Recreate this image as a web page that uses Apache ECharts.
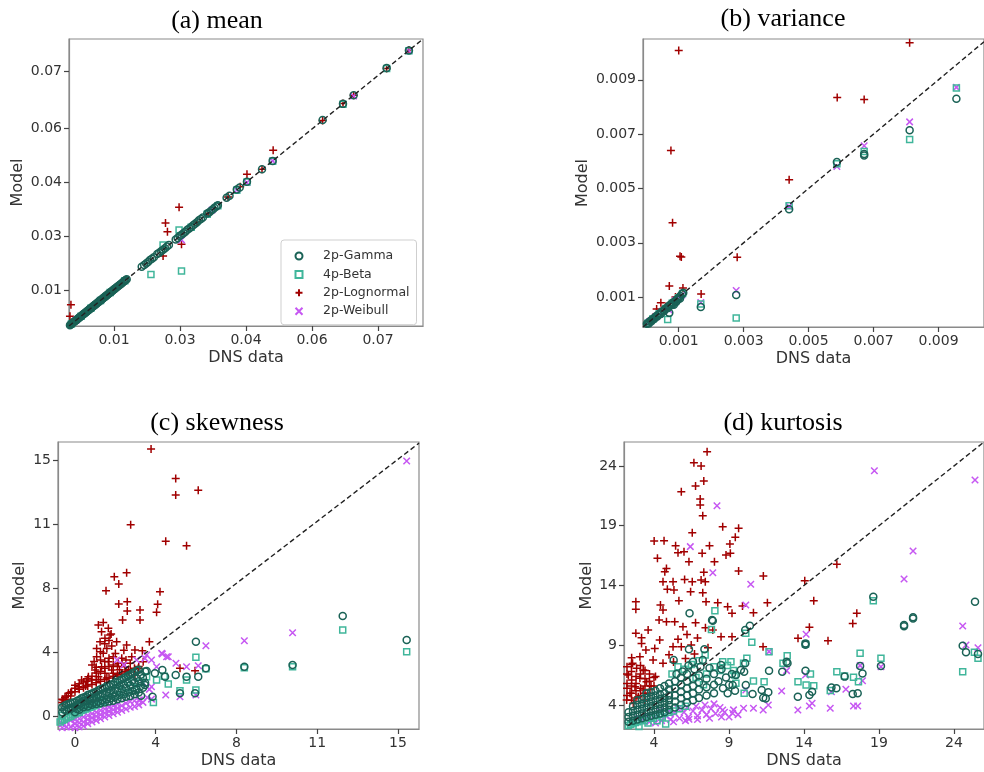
<!DOCTYPE html>
<html>
<head>
<meta charset="utf-8">
<script src="https://cdn.jsdelivr.net/npm/echarts@6/dist/echarts.min.js"></script>
<style>
  html, body { margin: 0; background: #fff; }
  #chart { width: 984px; height: 772px; }
</style>
</head>
<body>
<div id="chart"></div>
<script>
/* DNS data vs model moments — four scatter panels */

// ---------- data: [DNS value, model value] ----------
// (a) mean
const meanGamma = [[0.0037,0.0037],[0.00385,0.0039],[0.0040,0.0040],[0.00415,0.0042],[0.0043,0.0043],[0.00445,0.0045],[0.0046,0.0046],[0.00475,0.0048],[0.0049,0.0049],[0.00505,0.0051],[0.0052,0.0052],[0.00535,0.0054],[0.0055,0.0055],[0.00565,0.0057],[0.0058,0.0058],[0.00595,0.0060],[0.0061,0.0061],[0.00625,0.0063],[0.0064,0.0064],[0.00655,0.0066],[0.0067,0.0067],[0.00685,0.0069],[0.0070,0.0070],[0.00715,0.0072],[0.0073,0.0073],[0.00745,0.0075],[0.0076,0.0076],[0.00775,0.0078],[0.0079,0.0079],[0.00805,0.0081],[0.0082,0.0082],[0.00835,0.0084],[0.0085,0.0085],[0.00865,0.0087],[0.0088,0.0088],[0.00895,0.0090],[0.0091,0.0091],[0.00925,0.0093],[0.0094,0.0094],[0.00955,0.0096],[0.0097,0.0097],[0.00985,0.0099],[0.0100,0.0100],[0.01015,0.0102],[0.0103,0.0103],[0.01045,0.0105],[0.0106,0.0106],[0.01075,0.0108],[0.0109,0.0109],[0.01105,0.0111],[0.0112,0.0112],[0.01135,0.0114],[0.0115,0.0115],[0.01165,0.0117],[0.0118,0.0118],[0.01195,0.0120],[0.0121,0.0121],[0.01225,0.0123],[0.0124,0.0124],[0.01255,0.0126],[0.0127,0.0127],[0.01285,0.0129],[0.0130,0.0130],[0.0132,0.0132],[0.0134,0.0134],[0.0136,0.0136],[0.0138,0.0138],[0.0140,0.0140],[0.0142,0.0142],[0.0144,0.0144],[0.0146,0.0146],[0.0148,0.0148],[0.0150,0.0150],[0.0152,0.0152],[0.0154,0.0154],
  [0.0185,0.0186],[0.0190,0.0190],[0.0194,0.0194],[0.0198,0.0198],[0.0202,0.0203],[0.0206,0.0206],[0.0210,0.0210],[0.0217,0.0218],[0.0221,0.0221],[0.0225,0.0225],[0.0229,0.0229],[0.0233,0.0233],[0.0237,0.0237],[0.0241,0.0241],[0.0255,0.0255],[0.0259,0.0259],[0.0263,0.0264],[0.0267,0.0267],[0.0271,0.0271],[0.0275,0.0275],[0.0279,0.0280],[0.0283,0.0283],[0.0287,0.0287],[0.0291,0.0291],[0.0295,0.0295],[0.0299,0.0299],[0.0303,0.0304],[0.0307,0.0307],[0.0311,0.0311],[0.0320,0.0321],[0.0324,0.0324],[0.0328,0.0328],[0.0332,0.0332],[0.0335,0.0336],[0.0339,0.0339],[0.0342,0.0342],[0.0360,0.0361],[0.0366,0.0366],[0.0381,0.0382],[0.0387,0.0387],[0.0402,0.0402],[0.0433,0.0434],[0.0455,0.0455],[0.0558,0.0559],[0.0600,0.0600],[0.0622,0.0622],[0.0690,0.0691],[0.0736,0.0736]];
const meanBeta = [[0.0040,0.0040],[0.0060,0.0060],[0.0080,0.0080],[0.0100,0.0100],[0.0120,0.0120],[0.0150,0.0150],[0.0204,0.0166],[0.0229,0.0241],[0.0262,0.0279],[0.0267,0.0175],[0.0287,0.0286],[0.0320,0.0319],[0.0342,0.0341],[0.0381,0.0380],[0.0402,0.0401],[0.0455,0.0454],[0.0600,0.0599],[0.0690,0.0690],[0.0736,0.0735]];
const meanLogn = [[0.0039,0.0089],[0.0037,0.0060],[0.0060,0.0060],[0.0090,0.0090],[0.0120,0.0120],[0.0229,0.0213],[0.0234,0.0297],[0.0238,0.0275],[0.0262,0.0337],[0.0267,0.0243],[0.0300,0.0300],[0.0322,0.0322],[0.0363,0.0363],[0.0388,0.0389],[0.0402,0.0421],[0.0433,0.0434],[0.0456,0.0482],[0.0558,0.0558],[0.0600,0.0601],[0.0622,0.0622],[0.0690,0.0690],[0.0736,0.0737]];
const meanWeib = [[0.0050,0.0050],[0.0100,0.0100],[0.0267,0.0254],[0.0330,0.0330],[0.0381,0.0381],[0.0402,0.0400],[0.0455,0.0455],[0.0622,0.0620],[0.0736,0.0735]];

// (b) variance
const varGamma = [[0.00002,0.00002],[0.00006,0.00005],[0.00010,0.00010],[0.00014,0.00013],[0.00018,0.00017],[0.00022,0.00021],[0.00027,0.00026],[0.00032,0.00031],[0.00037,0.00035],[0.00042,0.00040],[0.00047,0.00046],[0.00053,0.00051],[0.00058,0.00056],[0.00064,0.00062],[0.00070,0.00068],[0.00076,0.00074],[0.00082,0.00080],[0.00088,0.00085],[0.00094,0.00092],[0.00100,0.00098],[0.00105,0.00104],[0.00110,0.00111],[0.00114,0.00116],[0.00085,0.00072],[0.00092,0.00082],[0.00104,0.00095],[0.00008,0.00003],[0.00016,0.00011],[0.00025,0.00020],[0.00034,0.00029],[0.00045,0.00038],[0.00055,0.00049],[0.00067,0.00060],[0.00079,0.00071],
  [0.00071,0.00042],[0.00075,0.00070],[0.00097,0.00090],[0.00168,0.00064],[0.00277,0.00108],[0.00440,0.00423],[0.00587,0.00597],[0.00671,0.00627],[0.00671,0.00621],[0.00811,0.00714],[0.00955,0.00830]];
const varBeta = [[0.00005,0.00004],[0.00020,0.00019],[0.00040,0.00039],[0.00060,0.00058],[0.00080,0.00077],[0.00100,0.00098],[0.00112,0.00113],[0.00066,0.00018],[0.00168,0.00075],[0.00277,0.00023],[0.00440,0.00436],[0.00587,0.00591],[0.00671,0.00636],[0.00811,0.00680],[0.00955,0.00870]];
const varLogn = [[0.00010,0.00012],[0.00020,0.00025],[0.00032,0.00056],[0.00045,0.00079],[0.00060,0.00065],[0.00071,0.00141],[0.00076,0.00640],[0.00081,0.00374],[0.00090,0.00100],[0.00100,0.01008],[0.00104,0.00250],[0.00108,0.00248],[0.00113,0.00134],[0.00169,0.00111],[0.00280,0.00247],[0.00440,0.00532],[0.00588,0.00835],[0.00671,0.00827],[0.00811,0.01036]];
const varWeib = [[0.00010,0.00009],[0.00030,0.00028],[0.00050,0.00048],[0.00071,0.00052],[0.00090,0.00088],[0.00110,0.00108],[0.00168,0.00080],[0.00277,0.00124],[0.00440,0.00434],[0.00587,0.00581],[0.00671,0.00657],[0.00811,0.00745],[0.00955,0.00872]];

// (c) skewness
const skewGamma = [[-0.6,-0.3],[-0.6,0.0],[-0.4,-0.2],[-0.4,0.15],[-0.2,-0.1],[-0.2,0.25],[0.0,-0.3],[0.0,0.05],[0.0,0.3],[0.2,-0.15],[0.2,0.2],[0.2,0.45],[0.4,0.0],[0.4,0.35],[0.4,0.6],[0.6,0.05],[0.6,0.4],[0.6,0.75],[0.8,0.15],[0.8,0.5],[0.8,0.85],[1.0,0.2],[1.0,0.6],[1.0,0.95],[1.2,0.25],[1.2,0.65],[1.2,1.1],[1.4,0.3],[1.4,0.75],[1.4,1.2],[1.6,0.35],[1.6,0.85],[1.6,1.3],[1.8,0.4],[1.8,0.9],[1.8,1.4],[2.0,0.5],[2.0,1.0],[2.0,1.55],[2.2,0.55],[2.2,1.1],[2.2,1.7],[2.4,0.65],[2.4,1.2],[2.4,1.85],[2.6,0.7],[2.6,1.35],[2.6,2.0],[2.8,0.8],[2.8,1.5],[2.8,2.15],[3.0,0.9],[3.0,1.6],[3.0,2.3],[3.2,1.2],[3.2,1.8],
  [-0.5,-0.15],[-0.5,0.1],[-0.3,-0.05],[-0.3,0.2],[-0.1,0.0],[-0.1,0.3],[0.1,-0.1],[0.1,0.15],[0.1,0.4],[0.3,0.1],[0.3,0.3],[0.3,0.55],[0.5,0.15],[0.5,0.45],[0.5,0.65],[0.7,0.2],[0.7,0.55],[0.7,0.8],[0.9,0.3],[0.9,0.6],[0.9,0.9],[1.1,0.35],[1.1,0.75],[1.1,1.05],[1.3,0.45],[1.3,0.85],[1.3,1.15],[1.5,0.5],[1.5,0.95],[1.5,1.3],[1.7,0.55],[1.7,1.05],[1.7,1.4],[1.9,0.65],[1.9,1.15],[1.9,1.55],[2.1,0.75],[2.1,1.3],[2.1,1.65],[2.3,0.8],[2.3,1.4],[2.3,1.8],[2.5,0.9],[2.5,1.5],[2.5,1.95],[2.7,1.0],[2.7,1.65],[2.7,2.1],[2.9,1.1],[2.9,1.8],[2.9,2.25],[3.1,1.3],[3.1,2.0],[3.3,1.5],[3.3,2.2],
  [2.82,1.06],[3.11,0.71],[3.29,1.37],[3.37,2.22],[3.65,0.65],[3.76,2.08],[4.11,2.29],[4.24,1.88],[4.74,1.98],[4.94,0.86],[5.25,1.88],[5.65,0.86],[5.69,4.02],[5.8,1.88],[6.16,2.39],[7.97,2.49],[10.24,2.59],[12.6,5.59],[15.61,4.12]];
const skewBeta = [[-0.7,-0.9],[-0.5,-0.75],[-0.3,-0.6],[-0.1,-0.45],[0.1,-0.35],[0.3,-0.2],[0.5,-0.1],[0.7,0.0],[0.9,0.1],[1.1,0.2],[1.3,0.35],[-0.6,-0.5],[-0.2,-0.2],[0.2,0.05],[0.6,0.25],[1.0,0.45],[1.5,0.5],[1.9,0.7],[2.3,0.9],[2.7,1.2],[3.1,1.5],[2.0,1.4],[2.5,1.7],[-0.6,-0.8],[-0.4,-0.65],[-0.2,-0.55],[0.0,-0.4],[0.2,-0.3],[0.4,-0.15],[0.6,-0.05],[0.8,0.05],[1.0,0.15],
  [3.37,1.88],[3.69,0.3],[3.84,1.67],[4.2,1.9],[4.39,1.43],[4.94,1.02],[5.25,1.67],[5.69,1.06],[5.69,3.06],[6.16,2.37],[7.97,2.43],[10.24,2.49],[12.6,4.74],[15.61,3.41]];
const skewLogn = [[3.58,15.83],[4.74,14.03],[4.74,13.01],[5.8,13.31],[2.62,11.19],[4.27,10.17],[5.25,9.9],[1.85,8.0],[2.43,8.25],[1.46,7.15],[2.06,7.56],[2.06,6.33],[2.46,6.47],[2.46,5.9],[2.24,5.35],[3.06,5.96],[3.06,5.35],[4.0,7.08],[3.89,6.31],[3.84,5.82],[3.5,4.02],[4.94,2.39],[5.65,2.24],
  [1.33,5.19],[1.1,5.04],[1.57,4.84],[1.25,4.63],[1.65,4.43],[1.41,4.23],[1.18,4.02],[1.96,4.02],[1.02,3.61],[1.73,3.76],[2.43,3.82],[2.82,3.51],[3.17,3.47],[2.67,3.1],[2.2,3.0],[1.33,3.31],[1.02,3.1],[1.57,2.79],[2.04,2.7],[0.94,2.29],[0.63,1.88],[0.31,1.67],[0.55,1.6],[0.0,1.16],[-0.31,0.86],[-0.55,0.45],[-0.47,0.6],[1.25,2.49],[1.73,2.29],[2.51,2.29],[2.82,1.98],[-0.16,0.96],[0.16,1.26],[0.78,1.67],[1.1,1.88],[1.41,2.08],[1.8,2.08],[2.1,2.3],[2.35,2.49],[2.98,2.39],[3.21,2.79],[1.5,3.6],[1.9,3.3],[0.8,2.6],[1.2,2.9],[-0.6,0.3],[0.5,1.3],[1.0,1.5],[1.5,1.8],[2.0,1.9],[2.5,2.1],
  [-0.6,0.5],[-0.4,0.7],[-0.4,0.5],[-0.2,0.9],[-0.2,0.7],[0.0,0.95],[0.0,1.35],[0.2,1.1],[0.2,1.45],[0.4,1.2],[0.4,1.55],[0.6,1.3],[0.6,1.75],[0.8,1.4],[0.8,1.9],[1.0,1.7],[1.0,2.1],[1.0,2.45],[1.2,1.6],[1.2,2.2],[1.4,1.7],[1.4,2.4],[1.4,2.8],[1.6,1.8],[1.6,2.5],[1.6,3.0],[1.8,1.9],[1.8,2.6],[1.8,3.1],[2.0,2.0],[2.0,2.5],[2.2,2.1],[2.2,2.7],[2.4,2.2],[2.4,2.9],[2.6,2.3],[2.6,2.7],[2.8,2.4],[3.0,2.5],[1.2,3.4],[1.4,3.9],[1.7,4.5],[0.9,2.8],[1.6,4.1],[2.3,3.5]];
const skewWeib = [[-0.6,-1.25],[-0.6,-1.0],[-0.4,-1.2],[-0.4,-0.9],[-0.2,-1.2],[-0.2,-0.8],[0.0,-1.25],[0.0,-1.0],[0.0,-0.75],[0.2,-1.2],[0.2,-0.95],[0.2,-0.7],[0.4,-1.15],[0.4,-0.9],[0.4,-0.6],[0.6,-1.0],[0.6,-0.75],[0.6,-0.5],[0.8,-0.9],[0.8,-0.65],[0.8,-0.4],[1.0,-0.8],[1.0,-0.55],[1.0,-0.3],[1.2,-0.7],[1.2,-0.45],[1.2,-0.2],[1.4,-0.6],[1.4,-0.35],[1.4,-0.1],[1.6,-0.5],[1.6,-0.25],[1.6,0.0],[1.8,-0.4],[1.8,-0.15],[1.8,0.1],[2.0,-0.3],[2.0,-0.05],[2.0,0.2],[2.2,-0.2],[2.2,0.1],[2.4,-0.1],[2.4,0.25],[2.6,0.0],[2.6,0.35],[2.8,0.05],[2.8,0.4],[3.0,0.15],[3.0,0.45],[3.2,0.3],[3.4,0.6],[3.6,0.5],
  [1.98,2.9],[2.3,2.6],[2.9,2.9],[3.29,3.0],[3.37,3.2],[3.6,2.9],[3.84,2.49],[4.08,3.31],[4.11,3.27],[4.31,3.1],[4.39,3.1],[4.75,2.7],[5.25,2.49],[5.8,2.55],[6.16,3.77],[7.97,4.08],[10.24,4.57],[15.61,15.09],[3.06,0.45],[4.27,0.75],[4.94,0.65],[5.69,0.75],[3.6,1.26],[3.2,1.5],[3.5,1.1]];

// (d) kurtosis
const kurtGamma = [[25.4,12.65],[18.62,13.06],[21.27,11.34],[21.27,11.24],[20.67,10.7],[20.67,10.6],[24.58,8.97],[24.8,8.41],[25.6,8.27],[14.1,9.16],[14.1,9.05],[12.84,7.63],[12.9,7.5],[11.67,6.88],[10.08,10.28],[10.39,10.64],[7.87,11.11],[6.37,11.67],[14.1,6.88],[14.54,5.12],[14.36,4.84],[13.59,4.7],[15.83,5.48],[16.16,5.4],[16.71,6.38],[17.25,4.93],[17.58,4.98],[17.74,7.27],[17.9,6.65],[19.13,7.27],[10.57,4.93],[11.28,4.62],[11.62,5.07],[12.55,6.79],[10.12,5.68],[9.79,6.93],[9.24,5.68],[8.91,4.98],[7.92,11.06],[7.36,8.66],[6.33,8.66],[5.31,7.77],[6.6,7.63],[7.25,7.77],[8.47,7.35],[9.46,6.52],[10.01,6.79],[10.08,7.49],[11.18,5.26],[11.45,4.56],
  [2.3,2.6],[2.3,3.0],[2.3,3.4],[2.6,2.7],[2.6,3.1],[2.6,3.5],[2.6,3.9],[2.9,2.8],[2.9,3.2],[2.9,3.6],[2.9,4.0],[2.9,4.4],[3.2,2.9],[3.2,3.3],[3.2,3.7],[3.2,4.1],[3.2,4.5],[3.5,3.0],[3.5,3.4],[3.5,3.8],[3.5,4.2],[3.5,4.6],[3.5,5.0],[3.8,3.1],[3.8,3.5],[3.8,3.9],[3.8,4.3],[3.8,4.7],[3.8,5.1],[4.1,3.2],[4.1,3.6],[4.1,4.0],[4.1,4.4],[4.1,4.8],[4.1,5.2],[4.4,3.3],[4.4,3.7],[4.4,4.1],[4.4,4.5],[4.4,4.9],[4.4,5.4],[4.7,3.4],[4.7,3.8],[4.7,4.2],[4.7,4.6],[4.7,5.0],[4.7,5.6],[5.0,3.6],[5.0,4.0],[5.0,4.4],[5.0,4.8],[5.0,5.3],[5.0,5.8],[5.4,3.8],[5.4,4.3],[5.4,4.8],[5.4,5.4],[5.4,6.0],[5.8,4.0],[5.8,4.6],[5.8,5.1],[5.8,5.7],[5.8,6.3],[6.2,4.2],[6.2,4.8],[6.2,5.4],[6.2,6.0],[6.2,6.6],[6.6,4.4],[6.6,5.0],[6.6,5.6],[6.6,6.2],[7.0,4.6],[7.0,5.3],[7.0,5.9],[7.0,6.5],[7.5,4.8],[7.5,5.5],[7.5,6.2],[8.0,5.0],[8.0,5.7],
  [6.7,7.0],[7.1,7.2],[7.7,7.1],[8.0,6.6],[8.3,6.0],[8.5,7.0],[8.6,5.4],[8.8,6.3],[9.0,5.7],[9.2,6.6],[9.4,5.2],[5.9,6.8],[6.3,7.3],[5.5,6.6]];
const kurtBeta = [[24.58,6.79],[25.36,8.41],[25.6,7.91],[18.62,12.73],[17.74,8.33],[19.13,7.91],[16.19,6.79],[16.7,6.43],[17.3,6.32],[17.63,5.96],[15.75,5.21],[14.1,9.08],[13.6,5.96],[14.14,5.68],[14.65,5.62],[14.43,6.6],[12.88,8.13],[12.6,7.49],[11.67,8.47],[11.34,5.96],[10.63,6.01],[10.12,10.0],[10.52,9.25],[8.06,11.89],[7.83,10.33],[7.41,8.19],[8.58,7.63],[9.13,7.63],[9.97,7.49],[10.19,7.91],[9.4,6.52],[4.78,2.42],[9.46,5.82],[10.01,4.98],
  [5.2,6.6],[5.6,7.2],[6.0,7.0],[6.5,7.4],[7.0,7.7],[7.5,6.6],[8.0,7.2],[8.4,6.9],[8.9,7.3],[9.3,6.9],[6.8,6.3],[7.3,5.7],[2.3,2.3],[2.6,2.5],[2.9,2.6],[3.2,2.8],[3.5,2.9],[3.8,3.0],[4.1,3.1],[4.4,3.2],[4.7,3.3],[5.0,3.4],[3.0,2.2],[3.6,2.5],[4.2,2.7],[2.45,2.4],[2.75,2.55],[3.35,2.7],[3.95,2.9],[4.55,3.0],[5.3,3.5],[5.7,3.7],[6.1,3.9]];
const kurtLogn = [[7.54,25.19],[6.66,24.27],[7.14,23.99],[7.32,22.74],[6.77,22.32],[5.82,21.84],[7.08,21.23],[7.08,20.73],[7.25,19.84],[8.58,18.92],[9.64,18.78],[6.55,18.42],[9.42,18.03],[4.01,17.72],[4.67,17.75],[5.44,17.33],[7.7,17.33],[9.06,17.47],[5.6,16.74],[6.0,16.83],[9.09,16.69],[8.8,16.55],[7.21,16.69],[4.23,16.27],[6.33,15.99],[8.03,15.99],[4.83,15.43],[4.72,15.16],[7.32,15.1],[9.64,15.21],[11.29,14.79],[4.6,14.32],[5.27,14.32],[6.55,14.32],[6.04,14.51],[7.14,14.46],[7.42,14.32],[4.89,13.68],[5.33,13.62],[6.44,13.48],[7.25,13.4],[2.79,12.65],[2.79,12.01],[5.66,12.73],[4.43,12.37],[4.6,11.95],[7.47,12.65],[8.25,12.56],[8.91,12.23],[9.9,12.28],[10.63,11.73],[11.56,12.56],[9.2,11.67],[4.34,11.11],[4.83,10.97],[5.38,10.97],[5.93,10.56],[6.77,10.89],[7.43,10.47],[7.92,10.28],[2.79,10.0],[3.17,9.64],[3.61,10.28],[3.17,9.16],[8.47,9.72],[9.2,9.72],[11.27,8.88],[3.46,8.61],[4.05,8.74],[4.38,9.44],[5.27,8.88],[5.82,8.88],[6.48,9.02],[6.7,8.27],[2.51,7.96],[3.06,8.05],[2.57,7.49],[2.84,7.07],[3.28,6.93],[3.94,7.77],[4.6,7.49],[2.29,6.51],[2.51,6.1],[3.06,6.24],[3.5,5.96],[2.73,5.54],[3.28,5.26],[2.4,4.98],[3.72,4.98],[2.95,4.7],[2.18,4.42],[3.39,4.42],[2.62,4.15],
  [14.05,14.4],[16.19,15.77],[14.65,12.73],[14.36,10.5],[13.6,9.58],[15.6,9.38],[17.52,11.67],[17.25,10.83],[4.1,6.4],[3.8,5.6],[2.2,5.8],[5.0,8.2],[5.6,9.5],[6.2,9.9],[6.9,9.6],[7.6,8.8],[5.3,7.6],[6.1,7.9],
  [2.2,4.8],[2.2,5.4],[2.2,6.6],[2.2,7.2],[2.5,4.4],[2.5,5.0],[2.5,5.6],[2.5,6.8],[2.5,7.4],[2.8,4.6],[2.8,5.2],[2.8,5.8],[2.8,6.4],[3.1,4.8],[3.1,5.4],[3.1,6.6],[3.1,7.3],[3.4,5.0],[3.4,5.6],[3.4,6.2],[3.4,6.9],[3.7,5.3],[3.7,6.0],[3.7,6.6],[4.0,5.6],[4.0,6.3]];
const kurtWeib = [[18.69,23.6],[25.4,22.82],[8.2,20.67],[21.27,16.88],[20.67,14.54],[6.42,17.25],[7.92,15.07],[10.45,14.1],[10.12,12.37],[14.14,9.92],[24.58,10.61],[24.8,9.02],[25.6,8.8],[17.74,7.3],[19.13,7.21],[17.9,6.04],[16.79,5.32],[15.83,5.12],[17.3,3.92],[17.58,3.92],[15.75,3.73],[14.54,4.15],[14.36,3.92],[13.59,3.59],[12.51,5.18],[12.84,6.88],[11.67,8.47],[11.62,4.01],[11.28,3.59],[10.63,3.73],[9.97,3.73],[14.1,6.52],[9.24,3.31],[8.58,3.59],[10.12,5.26],[6.33,2.81],
  [3.0,2.9],[3.3,2.7],[3.6,3.1],[3.9,2.8],[4.2,3.2],[4.5,2.7],[4.8,3.1],[5.1,2.8],[5.4,3.3],[5.7,2.9],[6.0,3.4],[6.3,3.0],[6.6,3.5],[6.9,3.1],[7.2,3.6],[7.5,3.2],[7.8,3.7],[8.1,3.3],[8.4,3.8],[8.7,3.4],[9.0,3.0],[9.3,3.6],[9.6,3.2],[4.4,3.5],[5.0,3.5],[5.6,3.7],[6.2,3.8],[6.8,3.9],[7.4,4.0],[8.0,4.1],[5.3,2.6],[6.1,2.7],[6.9,2.8],[7.7,2.9],[8.5,3.0],[3.7,2.6],[4.1,2.5]];

// ---------- ticks ----------
const meanXTicks = [0.01278, 0.02639, 0.04000, 0.05361, 0.06722];
const meanYTicks = [0.01266, 0.02639, 0.04013, 0.05386, 0.06836];
const meanLabels = ["0.01", "0.03", "0.04", "0.06", "0.07"];
const varTicks = [0.001, 0.003, 0.005, 0.007, 0.009];
const varLabels = ["0.001", "0.003", "0.005", "0.007", "0.009"];
const skewXTicks = [0, 3.8, 7.6, 11.4, 15.2];
const skewYTicks = [-0.533, 3.389, 7.310, 11.232, 15.153];
const skewLabels = ["0", "4", "8", "11", "15"];
const kurtTicks = [4, 9, 14, 19, 24];
const kurtLabels = ["4", "9", "14", "19", "24"];

const seriesNames = ["2p-Gamma", "4p-Beta", "2p-Lognormal", "2p-Weibull"];

// ---------- styling ----------
const C = { gamma: "#1a6256", beta: "#40b69b", logn: "#a10000", weib: "#c657f2", text: "#333", box: "#8a8a8a" };
const FONT = "DejaVu Sans";
const PLUS = "path://M5,0L5,10M0,5L10,5";
const CROSS = "path://M0,0L10,10M10,0L0,10";

const panels = [
  { title: "(a) mean", tx: 217, ty: 21, grid: { left: 69, top: 39, width: 354, height: 287 },
    x: [0.0035, 0.0765], y: [0.0035, 0.0765], xt: meanXTicks, yt: meanYTicks, xl: meanLabels, yl: meanLabels,
    gapY: 43, diag: [0.0035, 0.0765], d: [meanGamma, meanBeta, meanLogn, meanWeib] },
  { title: "(b) variance", tx: 783, ty: 19, grid: { left: 643, top: 39, width: 345, height: 288 },
    x: [-0.0001, 0.0104], y: [-0.0001, 0.0105], xt: varTicks, yt: varTicks, xl: varLabels, yl: varLabels,
    gapY: 52, diag: [-0.0001, 0.0104], d: [varGamma, varBeta, varLogn, varWeib] },
  { title: "(c) skewness", tx: 217, ty: 423, grid: { left: 58, top: 442, width: 361, height: 287 },
    x: [-0.8, 16.19], y: [-1.33, 16.26], xt: skewXTicks, yt: skewYTicks, xl: skewLabels, yl: skewLabels,
    gapY: 30, diag: [-0.63, 16.19], d: [skewGamma, skewBeta, skewLogn, skewWeib] },
  { title: "(d) kurtosis", tx: 783, ty: 423, grid: { left: 624, top: 442, width: 362.4, height: 287 },
    x: [2, 26], y: [2, 26], xt: kurtTicks, yt: kurtTicks, xl: kurtLabels, yl: kurtLabels,
    gapY: 29, diag: [2.28, 26], d: [kurtGamma, kurtBeta, kurtLogn, kurtWeib] }
];

const near = (arr, v) => arr.reduce((b, t, i) => (Math.abs(t - v) < Math.abs(arr[b] - v) ? i : b), 0);

function axis(range, ticks, labels, name, gap, pos, idx) {
  return {
    type: "value", gridIndex: idx, position: pos, min: range[0], max: range[1],
    name, nameLocation: "middle", nameGap: gap,
    nameTextStyle: { color: C.text, fontFamily: FONT, fontSize: 16 },
    axisLine: { show: true, onZero: false, lineStyle: { color: C.box, width: 1.2 } },
    axisTick: { show: true, inside: false, length: 5, customValues: ticks, lineStyle: { color: "#444", width: 1.2 } },
    axisLabel: { show: true, margin: 7, customValues: ticks, color: C.text, fontFamily: FONT, fontSize: 14,
      formatter: (v) => labels[near(ticks, v)] },
    splitLine: { show: false }
  };
}

const grids = [], xAxes = [], yAxes = [], series = [], graphics = [];
const styles = [
  { symbol: "circle", size: 7, color: C.gamma },
  { symbol: "rect", size: 6, color: C.beta },
  { symbol: PLUS, size: 8, color: C.logn },
  { symbol: CROSS, size: 6.5, color: C.weib }
];
const drawOrder = [2, 3, 1, 0]; // lognormal bottom, gamma on top

panels.forEach((p, i) => {
  grids.push({ ...p.grid, show: true, borderColor: C.box, borderWidth: 1.2, backgroundColor: "transparent" });
  xAxes.push(axis(p.x, p.xt, p.xl, "DNS data", 24, "bottom", i));
  yAxes.push(axis(p.y, p.yt, p.yl, "Model", p.gapY, "left", i));
  drawOrder.forEach(k => {
    const s = styles[k];
    series.push({
      name: seriesNames[k], type: "scatter", xAxisIndex: i, yAxisIndex: i, clip: true,
      data: p.d[k], symbol: s.symbol, symbolSize: s.size,
      itemStyle: { color: "rgba(0,0,0,0)", borderColor: s.color, borderWidth: 1.5, opacity: 1 }
    });
  });
  series.push({
    type: "line", xAxisIndex: i, yAxisIndex: i, data: [[p.diag[0], p.diag[0]], [p.diag[1], p.diag[1]]],
    symbol: "none", silent: true, z: 5, clip: true,
    lineStyle: { color: "#222", width: 1.4, type: [5, 3] }
  });
  graphics.push({
    type: "text", x: p.tx, y: p.ty,
    style: { text: p.title, fontFamily: "Liberation Serif", fontSize: 26, fill: "#000",
      align: "center", verticalAlign: "middle", textAlign: "center", textVerticalAlign: "middle" }
  });
});

const chart = echarts.init(document.getElementById("chart"), null, { renderer: "canvas" });
chart.setOption({
  animation: false,
  backgroundColor: "#fff",
  grid: grids, xAxis: xAxes, yAxis: yAxes, series,
  graphic: graphics,
  legend: {
    data: seriesNames, orient: "vertical", left: 281, top: 240,
    padding: [9.5, 7, 7, 13.5], itemWidth: 7, itemHeight: 7, itemGap: 5.4,
    backgroundColor: "#fff", borderColor: "#cfcfcf", borderWidth: 1, borderRadius: 3,
    textStyle: { color: C.text, fontFamily: FONT, fontSize: 12.5, padding: [0, 0, 0, 15.5] },
    selectedMode: false
  }
});
window.addEventListener("resize", () => chart.resize());
</script>
</body>
</html>
